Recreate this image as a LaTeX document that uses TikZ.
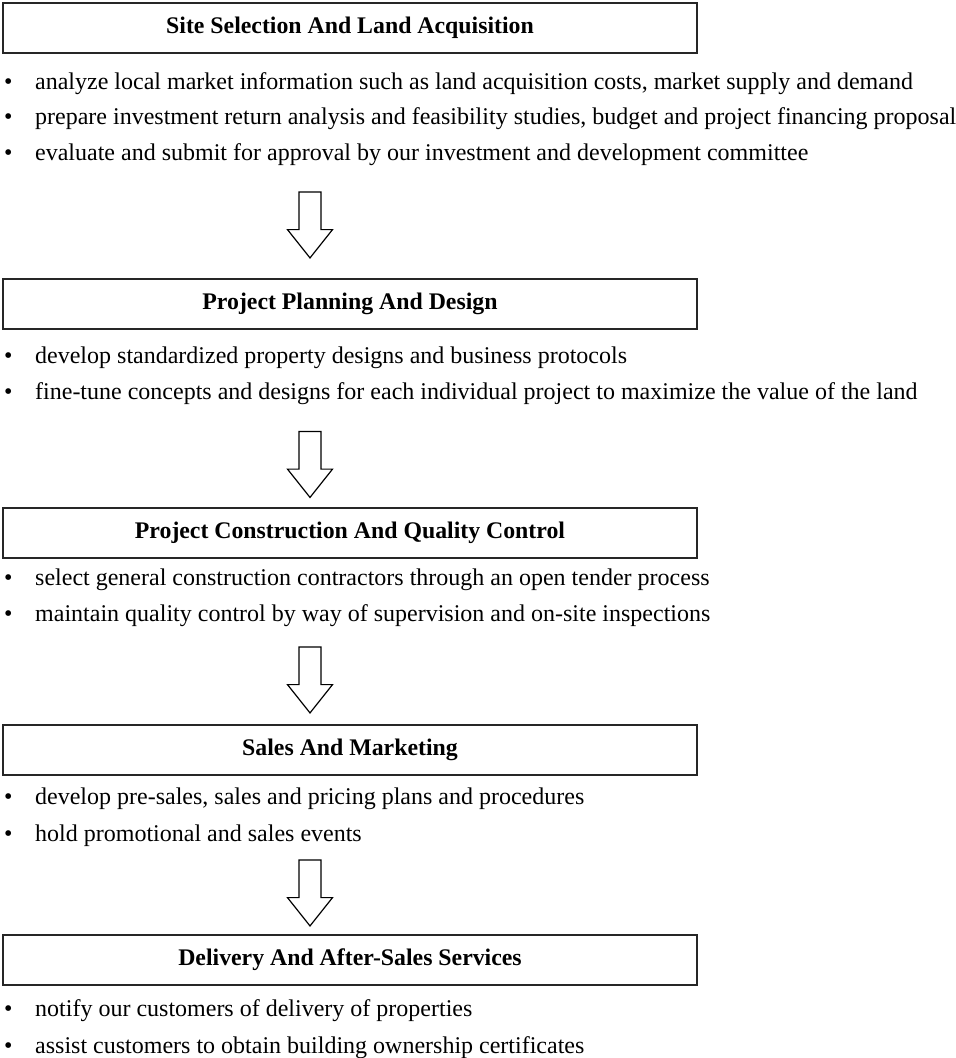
\documentclass[tikz,border=0pt]{standalone}
\usepackage{fontspec}
\setmainfont{Liberation Serif}
\usetikzlibrary{shapes.arrows}
\newcommand{\itembul}{\makebox[31pt][l]{\textbullet}}
\begin{document}
\begin{tikzpicture}
  [x=1pt,y=-1pt,
   Stage/.style={draw=black!85,line width=2pt,minimum width=694pt,minimum height=50pt,inner sep=0pt,font=\fontsize{23.8}{28}\selectfont\bfseries},
   Item/.style={anchor=base west,inner sep=0pt,font=\fontsize{24}{28}\selectfont},
   Flow/.style={draw=black,line width=1.2pt,fill=white,single arrow,rotate=-90,inner xsep=0pt,inner ysep=10.4pt,minimum height=66pt,minimum width=45pt,single arrow head extend=11.5pt,single arrow tip angle=77}]
  \useasboundingbox (0,0) rectangle (956,1058);
  % stage 1
  \node[Stage] (site) at (350,27.5){Site Selection And Land Acquisition};
  \node[Item] (site1) at (4,89){\itembul analyze local market information such as land acquisition costs, market supply and demand};
  \node[Item] (site2) at (4,124){\itembul prepare investment return analysis and feasibility studies, budget and project financing proposal};
  \node[Item] (site3) at (4,160){\itembul evaluate and submit for approval by our investment and development committee};
  \node[Flow] (f1) at (310,218){};
  % stage 2
  \node[Stage] (plan) at (350,303.5){Project Planning And Design};
  \node[Item] (plan1) at (4,363){\itembul develop standardized property designs and business protocols};
  \node[Item] (plan2) at (4,399){\itembul fine-tune concepts and designs for each individual project to maximize the value of the land};
  \node[Flow] (f2) at (310,457.5){};
  % stage 3
  \node[Stage] (build) at (350,533){Project Construction And Quality Control};
  \node[Item] (build1) at (4,585){\itembul select general construction contractors through an open tender process};
  \node[Item] (build2) at (4,621){\itembul maintain quality control by way of supervision and on-site inspections};
  \node[Flow] (f3) at (310,673){};
  % stage 4
  \node[Stage] (sales) at (350,750){Sales And Marketing};
  \node[Item] (sales1) at (4,804){\itembul develop pre-sales, sales and pricing plans and procedures};
  \node[Item] (sales2) at (4,841){\itembul hold promotional and sales events};
  \node[Flow] (f4) at (310,886){};
  % stage 5
  \node[Stage] (deliv) at (350,960){Delivery And After-Sales Services};
  \node[Item] (deliv1) at (4,1016){\itembul notify our customers of delivery of properties};
  \node[Item] (deliv2) at (4,1053){\itembul assist customers to obtain building ownership certificates};
\end{tikzpicture}
\end{document}
